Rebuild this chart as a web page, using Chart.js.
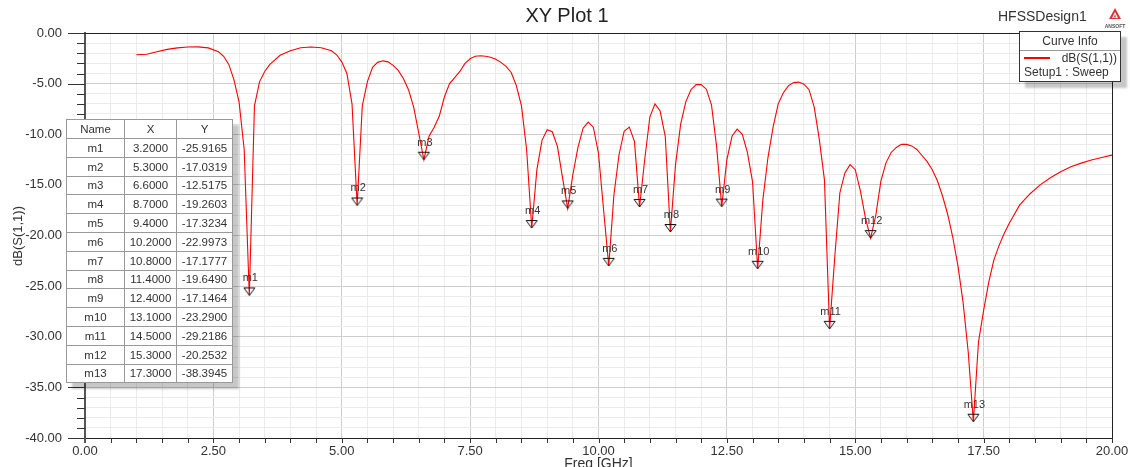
<!DOCTYPE html>
<html>
<head>
<meta charset="utf-8">
<script src="https://cdn.jsdelivr.net/npm/chart.js@4.4.1/dist/chart.umd.min.js"></script>
<style>
  html, body { margin:0; padding:0; background:#fff; }
  #wrap { position:relative; width:1130px; height:467px; overflow:hidden; font-family:"Liberation Sans", Arial, sans-serif; color:#333; }
  #plot { position:absolute; left:0; top:0; }
  .title { position:absolute; left:467px; width:200px; top:4px; text-align:center; font-size:20px; color:#222; }
  .design { position:absolute; left:998px; top:8px; font-size:14px; color:#333; }
  .logo { position:absolute; left:1100px; top:6px; width:30px; text-align:center; }
  .logo span { display:block; font-size:5px; font-weight:bold; color:#555; margin-top:-1px; }
  #markers { position:absolute; left:66px; top:119px; border-collapse:collapse; background:#fff; border:1.5px solid #333;
             box-shadow:6px 6px 2px rgba(0,0,0,0.22); font-size:11.5px; color:#333; }
  #markers td, #markers th { border:1px solid #999; height:17.8px; padding:0; text-align:center; font-weight:normal; }
  #markers th { height:18px; }
  #curveInfo { position:absolute; left:1019px; top:31px; width:100px; height:49px; background:#fff; border:1px solid #333;
               box-shadow:6px 6px 2px rgba(0,0,0,0.22); font-size:12px; color:#333; }
  #curveInfo .hd { height:18px; line-height:18px; text-align:center; border-bottom:1px solid #999; }
  #curveInfo .row { position:relative; height:14px; line-height:14px; }
  #curveInfo .sw { position:absolute; left:4px; top:6px; width:26px; height:2px; background:#ff0000; }
  #curveInfo .lb { position:absolute; right:3px; }
  #curveInfo .st { padding-left:4px; height:14px; line-height:14px; }
</style>
</head>
<body>
<div id="wrap">
  <canvas id="plot" width="1130" height="467"></canvas>
  <div class="title">XY Plot 1</div>
  <div class="design">HFSSDesign1</div>
  <div class="logo">
    <svg width="14" height="13" viewBox="0 0 14 13"><path d="M7 1 L13 12 L1 12 Z" fill="#d33"/><path d="M7 5 L10 11 L4 11 Z" fill="#fff"/><path d="M7 7 L8.6 10.5 L5.4 10.5 Z" fill="#888"/></svg>
    <span>ANSOFT</span>
  </div>
  <table id="markers"></table>
  <div id="curveInfo"></div>
</div>
<script>
// sweep samples (GHz / dB)
const freq = [1.0, 1.2, 1.4, 1.6, 1.8, 2.0, 2.2, 2.4, 2.6, 2.7, 2.8, 2.9, 3.0, 3.1, 3.2, 3.3, 3.4, 3.5, 3.6, 3.8,
  4.0, 4.2, 4.4, 4.6, 4.8, 4.9, 5.0, 5.1, 5.2, 5.3, 5.4, 5.5, 5.6, 5.7, 5.8, 5.9,
  6.0, 6.1, 6.2, 6.3, 6.4, 6.5, 6.6, 6.7, 6.8, 6.9, 7.0, 7.1, 7.2, 7.3, 7.4, 7.5, 7.6, 7.7, 7.8, 7.9,
  8.0, 8.1, 8.2, 8.3, 8.4, 8.5, 8.6, 8.7, 8.8, 8.9, 9.0, 9.1, 9.2, 9.3, 9.4, 9.5, 9.6, 9.7, 9.8, 9.9,
  10.0, 10.1, 10.2, 10.3, 10.4, 10.5, 10.6, 10.7, 10.8, 10.9, 11.0, 11.1, 11.2, 11.3, 11.4, 11.5, 11.6, 11.7, 11.8, 11.9,
  12.0, 12.1, 12.2, 12.3, 12.4, 12.5, 12.6, 12.7, 12.8, 12.9, 13.0, 13.1, 13.2, 13.3, 13.4, 13.5, 13.6, 13.7, 13.8, 13.9,
  14.0, 14.1, 14.2, 14.3, 14.4, 14.5, 14.6, 14.7, 14.8, 14.9, 15.0, 15.1, 15.2, 15.3, 15.4, 15.5, 15.6, 15.7, 15.8, 15.9,
  16.0, 16.1, 16.2, 16.3, 16.4, 16.5, 16.6, 16.7, 16.8, 16.9, 17.0, 17.1, 17.2, 17.3, 17.4, 17.5, 17.6, 17.7, 17.8, 17.9,
  18.0, 18.2, 18.4, 18.6, 18.8, 19.0, 19.2, 19.4, 19.6, 19.8, 20.0];
const s11 = [-2.15, -2.1, -1.85, -1.62, -1.47, -1.38, -1.37, -1.47, -1.85, -2.3, -3.1, -4.6, -6.8, -11.5, -25.9165, -7.2, -4.8, -3.8, -3.1, -2.2,
  -1.75, -1.45, -1.38, -1.45, -1.75, -2.15, -2.85, -4.0, -7.0, -17.0319, -7.2, -4.8, -3.4, -2.9, -2.75, -2.85,
  -3.2, -3.7, -4.5, -5.6, -7.3, -9.9, -12.5175, -10.2, -9.3, -8.2, -6.3, -5.0, -4.4, -3.8, -3.0, -2.55, -2.3, -2.25, -2.3, -2.4,
  -2.6, -2.9, -3.3, -3.9, -5.2, -7.2, -11.5, -19.2603, -13.5, -10.6, -9.55, -9.75, -11.2, -14.3, -17.3234, -14.0, -11.3, -9.4, -8.8, -9.3,
  -11.9, -17.5, -22.9973, -16.0, -12.0, -9.7, -9.3, -10.7, -17.1777, -12.5, -8.3, -7.0, -7.7, -10.2, -19.649, -13.0, -9.0, -6.8, -5.6, -5.1,
  -5.1, -5.55, -7.1, -11.2, -17.1464, -12.5, -10.2, -9.5, -10.0, -11.8, -14.7, -23.29, -16.5, -12.3, -9.3, -7.0, -5.9, -5.2, -4.9, -4.85,
  -5.05, -5.6, -7.3, -10.5, -14.5, -29.2186, -22.2, -15.8, -13.8, -13.0, -13.5, -15.6, -18.3, -20.2532, -18.0, -14.6, -12.8, -11.8, -11.3, -11.0,
  -11.0, -11.15, -11.5, -12.1, -12.7, -13.5, -14.6, -16.1, -17.9, -20.2, -23.0, -26.6, -31.5, -38.3945, -30.5, -27.4, -24.6, -22.4, -21.0, -19.8,
  -18.8, -17.0, -15.9, -15.0, -14.3, -13.7, -13.2, -12.85, -12.55, -12.3, -12.06];

const markerNames = ['m1', 'm2', 'm3', 'm4', 'm5', 'm6', 'm7', 'm8', 'm9', 'm10', 'm11', 'm12', 'm13'];
const markerX = [3.2, 5.3, 6.6, 8.7, 9.4, 10.2, 10.8, 11.4, 12.4, 13.1, 14.5, 15.3, 17.3];
const markerY = [-25.9165, -17.0319, -12.5175, -19.2603, -17.3234, -22.9973, -17.1777, -19.6490, -17.1464, -23.2900, -29.2186, -20.2532, -38.3945];

const curveLabel = 'dB(S(1,1))';
const curveSetup = 'Setup1 : Sweep';

const FONT = '"Liberation Sans", Arial, sans-serif';

function markerGlyph() {
    const c = document.createElement('canvas');
    c.width = 13; c.height = 18;
    const g = c.getContext('2d');
    g.strokeStyle = '#111'; g.lineWidth = 1;
    g.beginPath(); g.moveTo(1, 1.5); g.lineTo(12, 1.5); g.lineTo(6.5, 9); g.closePath(); g.stroke();
    return c;
}

// marker table + curve info box
const tbl = document.getElementById('markers');
let html = '<tr><th style="width:57px">Name</th><th style="width:51px">X</th><th style="width:55px">Y</th></tr>';
markerNames.forEach((n, i) => {
    html += '<tr><td>' + n + '</td><td>' + markerX[i].toFixed(4) + '</td><td>' + markerY[i].toFixed(4) + '</td></tr>';
});
tbl.innerHTML = html;
document.getElementById('curveInfo').innerHTML =
    '<div class="hd">Curve Info</div><div class="row"><div class="sw"></div><span class="lb">' + curveLabel +
    '</span></div><div class="st">' + curveSetup + '</div>';

const frame = {
    id: 'frame',
    afterDatasetsDraw(chart) {
        const ctx = chart.ctx, a = chart.chartArea;
        const xs = chart.scales.x, ys = chart.scales.y;
        ctx.save();
        // marker labels
        ctx.font = '11px ' + FONT; ctx.fillStyle = '#333'; ctx.textAlign = 'center'; ctx.textBaseline = 'alphabetic';
        chart.getDatasetMeta(1).data.forEach((pt, i) => ctx.fillText(markerNames[i], pt.x + 1, pt.y - 14));
        // frame
        ctx.strokeStyle = '#222'; ctx.lineWidth = 1;
        ctx.beginPath();
        ctx.moveTo(68, a.top + 0.5); ctx.lineTo(a.right + 0.5, a.top + 0.5);
        ctx.lineTo(a.right + 0.5, a.bottom);
        ctx.stroke();
        // y ticks
        ctx.strokeStyle = '#333';
        ys.ticks.forEach(t => {
            const py = Math.round(ys.getPixelForValue(t.value)) + 0.5;
            const len = Math.round(t.value) % 5 === 0 ? 17 : 8;
            ctx.beginPath(); ctx.moveTo(a.left - len, py); ctx.lineTo(a.left, py); ctx.stroke();
        });
        // x ticks
        xs.ticks.forEach(t => {
            const px = Math.round(xs.getPixelForValue(t.value)) + 0.5;
            ctx.beginPath(); ctx.moveTo(px, a.bottom); ctx.lineTo(px, a.bottom + 5); ctx.stroke();
        });
        ctx.strokeStyle = '#555'; ctx.lineWidth = 2;
        ctx.beginPath(); ctx.moveTo(a.left, a.bottom); ctx.lineTo(a.left, a.bottom + 5); ctx.stroke();
        // axis titles
        ctx.fillStyle = '#333'; ctx.font = '14px ' + FONT;
        ctx.textAlign = 'center'; ctx.textBaseline = 'top';
        ctx.fillText('Freq [GHz]', (a.left + a.right) / 2, 457);
        ctx.translate(18, 236); ctx.rotate(-Math.PI / 2);
        ctx.textBaseline = 'middle'; ctx.font = '13px ' + FONT;
        ctx.fillText('dB(S(1,1))', 0, 0);
        ctx.restore();
    }
};

const gridColor = c => (Math.abs(c.tick.value / 5 - Math.round(c.tick.value / 5)) < 1e-6 ? '#cdcdcd' : '#ebebeb');
const gridColorX = c => (Math.abs(c.tick.value / 2.5 - Math.round(c.tick.value / 2.5)) < 1e-6 ? '#cdcdcd' : '#ebebeb');

new Chart(document.getElementById('plot'), {
    type: 'scatter',
    data: {
        datasets: [
            { label: curveLabel, data: freq.map((f, i) => ({ x: f, y: s11[i] })), showLine: true,
              borderColor: '#ff0000', borderWidth: 1.1, pointRadius: 0, tension: 0, order: 2 },
            { label: 'markers', data: markerX.map((f, i) => ({ x: f, y: markerY[i] })), showLine: false,
              pointStyle: markerGlyph(), pointRadius: 6, order: 1 }
        ]
    },
    options: {
        responsive: false, animation: false, devicePixelRatio: 1,
        layout: { padding: { top: 33, right: 18, left: 0, bottom: 0 } },
        plugins: { legend: { display: false }, tooltip: { enabled: false } },
        scales: {
            x: {
                type: 'linear', min: 0, max: 20,
                afterFit: s => { s.height = 29; s.paddingLeft = 0; s.paddingRight = 0; },
                ticks: { stepSize: 0.5, autoSkip: false, maxRotation: 0, padding: 6, color: '#333',
                         font: { family: FONT, size: 13 },
                         callback: v => (Math.abs(v / 2.5 - Math.round(v / 2.5)) < 1e-6 ? v.toFixed(2) : '') },
                grid: { color: gridColorX, drawTicks: false },
                border: { color: '#222', width: 1 }
            },
            y: {
                min: -40, max: 0,
                afterFit: s => { s.width = 85; s.paddingTop = 0; s.paddingBottom = 0; },
                ticks: { stepSize: 1, autoSkip: false, padding: 23, color: '#333',
                         font: { family: FONT, size: 13 },
                         callback: v => (Math.round(v) % 5 === 0 ? v.toFixed(2) : '') },
                grid: { color: gridColor, drawTicks: false },
                border: { color: '#555', width: 2 }
            }
        }
    },
    plugins: [frame]
});
</script>
</body>
</html>
